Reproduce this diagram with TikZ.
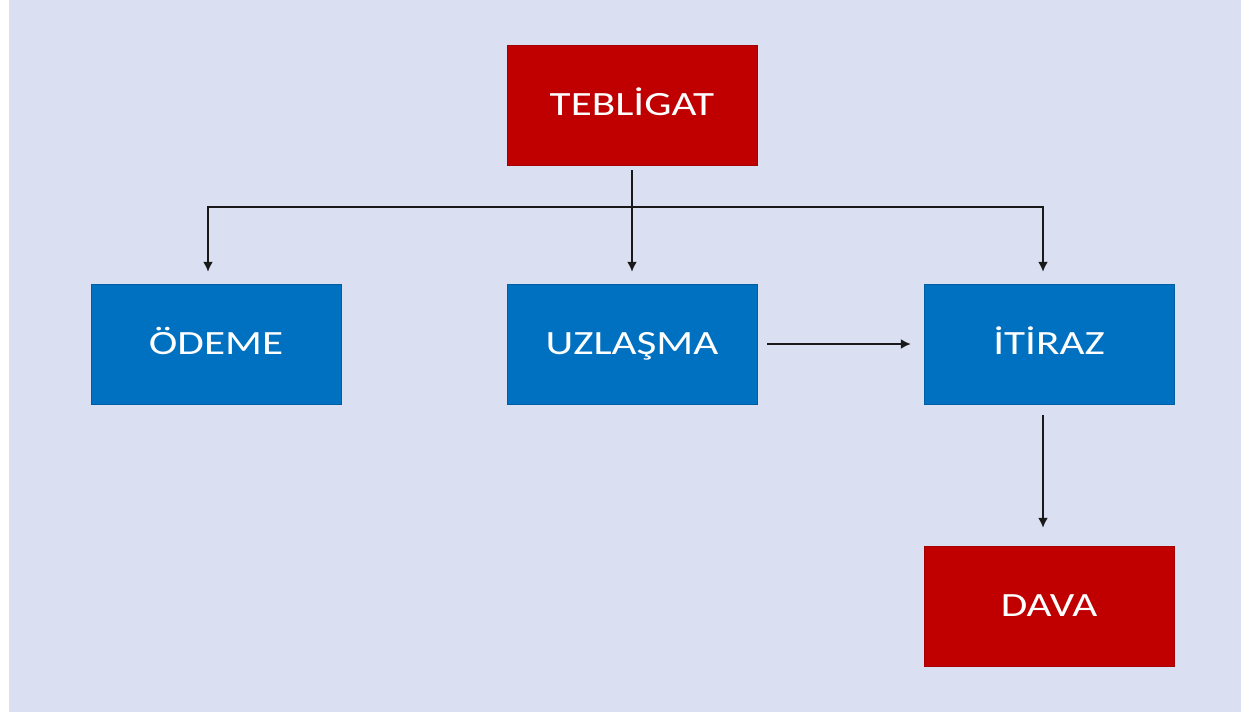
\documentclass[tikz,border=0pt]{standalone}
\usepackage{fontspec}
\setmainfont{Carlito}
\newfontfamily\boxfont[FakeStretch=1.27]{Carlito}
\usetikzlibrary{arrows.meta}
\definecolor{bgblue}{RGB}{218,224,242}
\definecolor{boxred}{RGB}{192,0,0}
\definecolor{boxblue}{RGB}{0,112,192}

\begin{document}
\begin{tikzpicture}[x={(1pt,0pt)}, y={(0pt,-1pt)},
    box/.style={minimum width=250pt, minimum height=120pt, inner sep=0pt,
                text height=21.5pt, text depth=0pt,
                text=white, font=\boxfont\fontsize{34}{40}\selectfont},
    redbox/.style={box, fill=boxred, draw=boxred!85!black, line width=0.5pt},
    bluebox/.style={box, fill=boxblue, draw=boxblue!85!black, line width=0.5pt},
    arr/.style={-{Latex[length=10pt,width=10pt]}, line width=1.8pt, draw=black!90}]

    % page and background
    \useasboundingbox[fill=white] (0,0) rectangle (1241,713);
    \fill[bgblue] (9,0) rectangle (1241,712);

    % boxes
    \node[redbox]  (tebligat) at (632,105) {TEBLİGAT};
    \node[bluebox] (odeme)    at (216,344) {ÖDEME};
    \node[bluebox] (uzlasma)  at (632,344) {UZLAŞMA};
    \node[bluebox] (itiraz)   at (1049,344) {İTİRAZ};
    \node[redbox]  (dava)     at (1049,606) {DAVA};

    % branch line
    \coordinate (split) at (632,207);

    % arrows
    \draw[arr, shorten <=5pt, shorten >=12pt] (tebligat) -- (uzlasma);
    \draw[arr, shorten >=12pt] (split) -| ([xshift=-8pt]odeme.north);
    \draw[arr, shorten >=12pt] (split) -| ([xshift=-6pt]itiraz.north);
    \draw[arr, shorten <=10pt, shorten >=13pt] (uzlasma) -- (itiraz);
    \draw[arr, shorten <=11pt, shorten >=18pt] ([xshift=-6pt]itiraz.south) -- ([xshift=-6pt]dava.north);

\end{tikzpicture}
\end{document}
